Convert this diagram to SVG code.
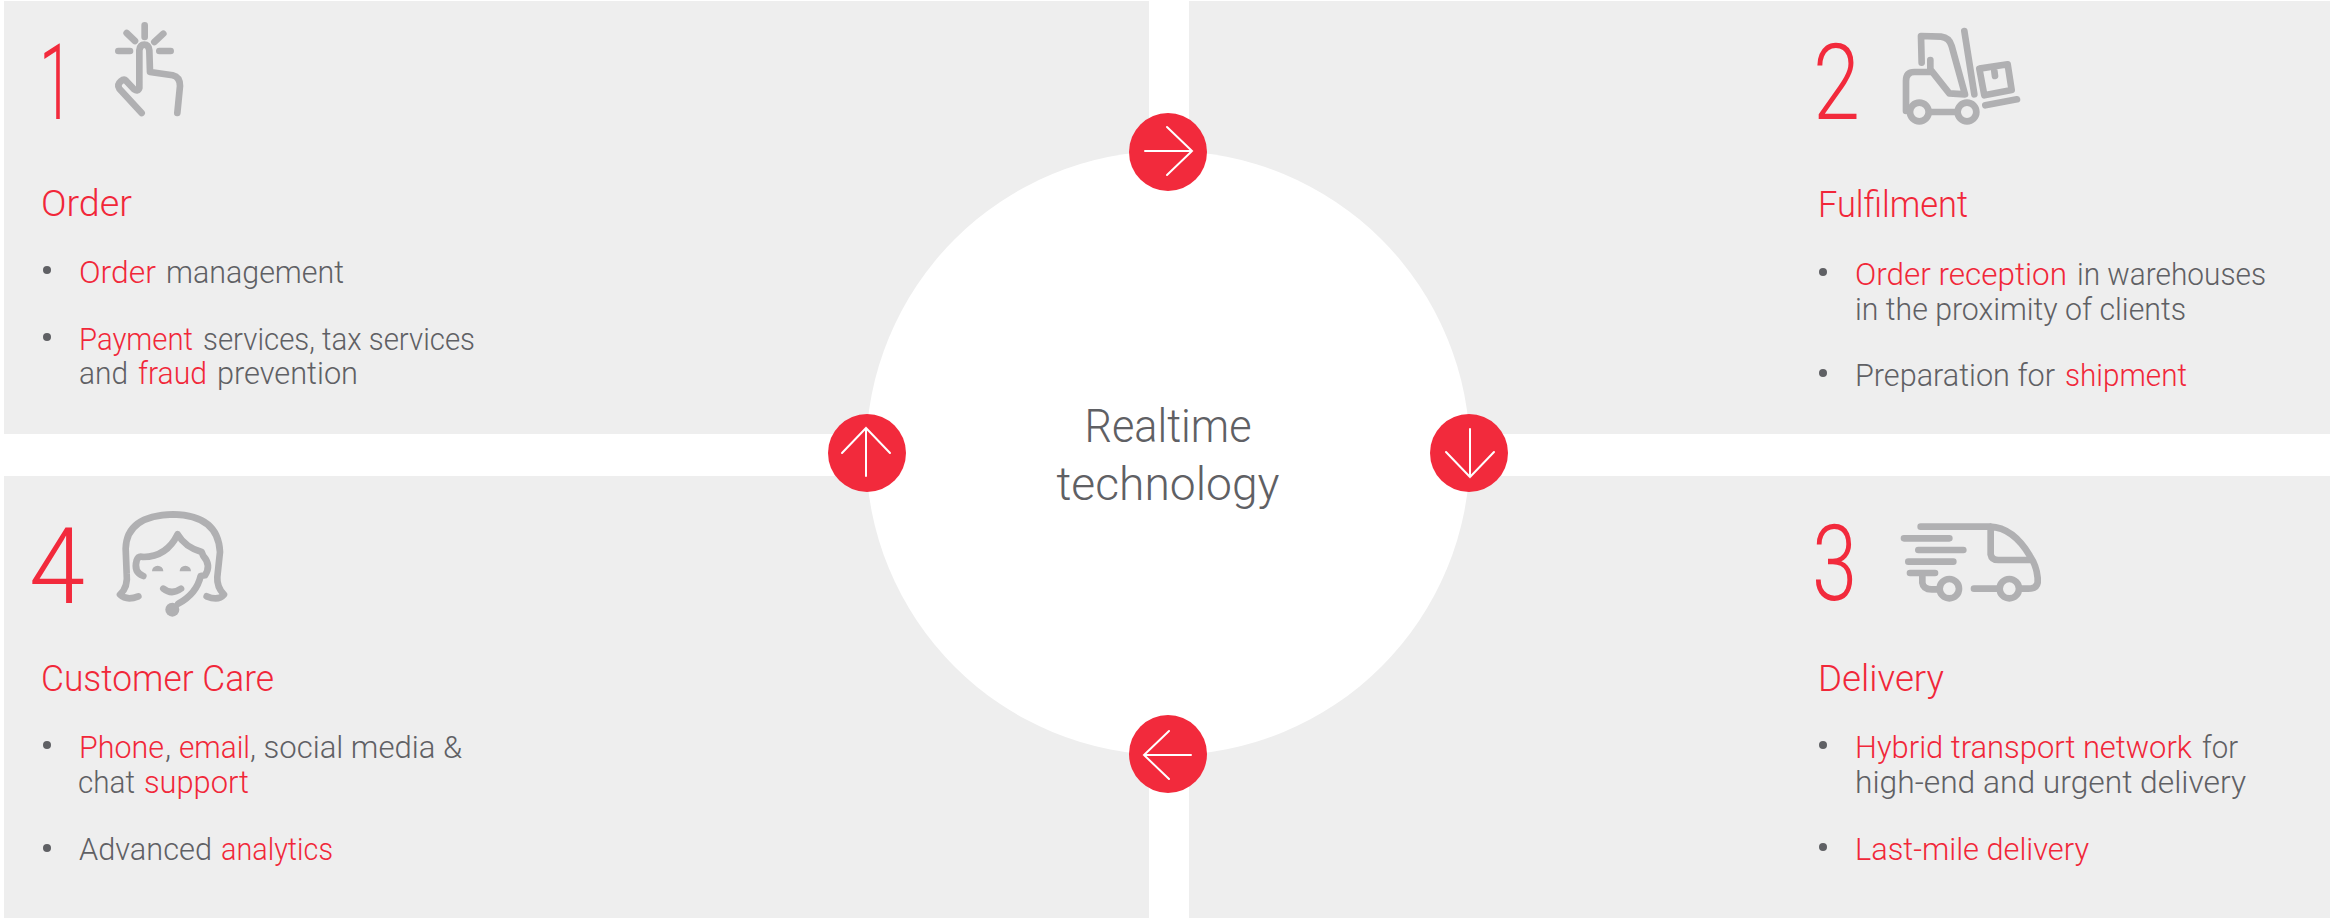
<svg xmlns="http://www.w3.org/2000/svg" width="2330" height="918" viewBox="0 0 2330 918">
<style>
.panel{fill:#eeeeee}
text{font-family:Roboto,"Liberation Sans",sans-serif;font-weight:300}
.num{font-size:106px;fill:#f22a3c}
.title{font-size:36px;fill:#f12739}
.body{font-size:32px;fill:#5f6064}
.r{fill:#f12739}
.center{font-size:47px;fill:#5f6064;text-anchor:middle}
.dot{fill:#5f6064}
.icon{fill:none;stroke:#b0b0b2;stroke-width:20;stroke-linecap:round;stroke-linejoin:round}
.solid{fill:#b0b0b2;stroke:none}
.badge{fill:#f22a3c}
.arrow{fill:none;stroke:#ffffff;stroke-width:2;stroke-linecap:round;stroke-linejoin:miter}
</style>
<rect width="2330" height="918" fill="#ffffff"/>
<g id="panels">
<rect class="panel" x="4" y="1" width="1145" height="433"/>
<rect class="panel" x="1189" y="1" width="1141" height="433"/>
<rect class="panel" x="4" y="476" width="1145" height="442"/>
<rect class="panel" x="1189" y="476" width="1141" height="442"/>
</g>
<g id="node-center">
<circle cx="1168" cy="453" r="302" fill="#ffffff"/>
<text class="center" x="1168" y="442" textLength="167" lengthAdjust="spacingAndGlyphs">Realtime</text>
<text class="center" x="1168" y="500" textLength="223" lengthAdjust="spacingAndGlyphs">technology</text>
</g>
<g id="node-order">
<text class="num" x="39" y="119" textLength="34" lengthAdjust="spacingAndGlyphs">1</text>
<g class="icon" transform="translate(100 12) scale(.3333)">
<path d="M134 40V75M80 63L105 87M190 65L163 90M55 117H90M178 117H212"/>
<path d="M232 303L240 222Q240 195 218 190L150 180L148 115Q146 98 133 98Q120 98 118 115V228Q114 240 102 232L78 206Q72 200 62 208Q50 218 58 230L125 303"/>
</g>
<text class="title" x="41" y="216" textLength="91" lengthAdjust="spacingAndGlyphs">Order</text>
<circle class="dot" cx="47" cy="270" r="4"/>
<circle class="dot" cx="47" cy="337" r="4"/>
<text class="body" y="283"><tspan class="r" x="79" textLength="77" lengthAdjust="spacingAndGlyphs">Order</tspan><tspan x="166" textLength="178" lengthAdjust="spacingAndGlyphs">management</tspan></text>
<text class="body" y="350"><tspan class="r" x="79" textLength="114" lengthAdjust="spacingAndGlyphs">Payment</tspan><tspan x="203" textLength="272" lengthAdjust="spacingAndGlyphs">services, tax services</tspan></text>
<text class="body" y="384"><tspan x="79" textLength="49" lengthAdjust="spacingAndGlyphs">and</tspan><tspan class="r" x="138" textLength="69" lengthAdjust="spacingAndGlyphs">fraud</tspan><tspan x="217" textLength="141" lengthAdjust="spacingAndGlyphs">prevention</tspan></text>
</g>
<g id="node-fulfilment">
<text class="num" x="1813" y="119" textLength="47" lengthAdjust="spacingAndGlyphs">2</text>
<g class="icon" transform="translate(1891 16) scale(.3333)">
<path d="M220 45L250 235M92 140L90 60L150 62Q175 65 182 90L222 235L175 232L118 160V132"/>
<path d="M118 168H70Q45 168 45 195V285"/>
<circle cx="85" cy="288" r="28"/><circle cx="228" cy="288" r="28"/>
<path d="M118 288H195M265 158L350 145L362 222L280 238ZM310 165L312 180M283 268L378 250"/>
</g>
<text class="title" x="1818" y="217" textLength="150" lengthAdjust="spacingAndGlyphs">Fulfilment</text>
<circle class="dot" cx="1823" cy="272" r="4"/>
<circle class="dot" cx="1823" cy="373" r="4"/>
<text class="body" y="285"><tspan class="r" x="1855" textLength="212" lengthAdjust="spacingAndGlyphs">Order reception</tspan><tspan x="2077" textLength="189" lengthAdjust="spacingAndGlyphs">in warehouses</tspan></text>
<text class="body" y="320" x="1855" textLength="331" lengthAdjust="spacingAndGlyphs">in the proximity of clients</text>
<text class="body" y="386"><tspan x="1855" textLength="200" lengthAdjust="spacingAndGlyphs">Preparation for</tspan><tspan class="r" x="2065" textLength="122" lengthAdjust="spacingAndGlyphs">shipment</tspan></text>
</g>
<g id="node-delivery">
<text class="num" x="1812" y="600" textLength="45" lengthAdjust="spacingAndGlyphs">3</text>
<g class="icon" transform="translate(1890 511) scale(.3333)">
<path d="M92 47H300Q370 50 420 135Q440 165 443 200V215Q440 233 415 233H395M302 47V130Q305 147 325 147H420"/>
<path d="M42 82H178M85 117H220M55 152H190M60 186H135M97 186V215Q100 235 125 235H145M252 233H328"/>
<circle cx="178" cy="233" r="29"/><circle cx="358" cy="233" r="29"/>
</g>
<text class="title" x="1818" y="691" textLength="126" lengthAdjust="spacingAndGlyphs">Delivery</text>
<circle class="dot" cx="1823" cy="745" r="4"/>
<circle class="dot" cx="1823" cy="847" r="4"/>
<text class="body" y="758"><tspan class="r" x="1855" textLength="337" lengthAdjust="spacingAndGlyphs">Hybrid transport network</tspan><tspan x="2202" textLength="36" lengthAdjust="spacingAndGlyphs">for</tspan></text>
<text class="body" y="793" x="1855" textLength="391" lengthAdjust="spacingAndGlyphs">high-end and urgent delivery</text>
<text class="body r" y="860" x="1855" textLength="234" lengthAdjust="spacingAndGlyphs">Last-mile delivery</text>
</g>
<g id="node-care">
<text class="num" x="29" y="603" textLength="56" lengthAdjust="spacingAndGlyphs">4</text>
<g class="icon" transform="translate(110 502) scale(.3333)">
<path d="M85 283Q50 297 30 278Q55 255 50 215L47 140Q50 40 190 37Q325 40 330 150L322 225Q320 255 342 278Q325 298 290 283"/>
<path d="M100 222Q70 210 80 175Q85 160 100 165Q170 165 203 97Q225 135 275 150L280 162Q305 190 285 220L272 222Q260 275 205 305"/>
<path d="M160 260Q185 280 213 260"/>
<path class="solid" d="M126 208A17 17 0 0 1 160 208ZM209 208A17 17 0 0 1 243 208Z"/>
<circle class="solid" cx="187" cy="323" r="21"/>
</g>
<text class="title" x="41" y="691" textLength="233" lengthAdjust="spacingAndGlyphs">Customer Care</text>
<circle class="dot" cx="47" cy="745" r="4"/>
<circle class="dot" cx="47" cy="848" r="4"/>
<text class="body" y="758"><tspan class="r" x="79" textLength="85" lengthAdjust="spacingAndGlyphs">Phone</tspan><tspan x="165">,</tspan><tspan class="r" x="179" textLength="71" lengthAdjust="spacingAndGlyphs">email</tspan><tspan x="250" textLength="212" lengthAdjust="spacingAndGlyphs">, social media &amp;</tspan></text>
<text class="body" y="793"><tspan x="78" textLength="57" lengthAdjust="spacingAndGlyphs">chat</tspan><tspan class="r" x="144" textLength="105" lengthAdjust="spacingAndGlyphs">support</tspan></text>
<text class="body" y="860"><tspan x="79" textLength="133" lengthAdjust="spacingAndGlyphs">Advanced</tspan><tspan class="r" x="221" textLength="112" lengthAdjust="spacingAndGlyphs">analytics</tspan></text>
</g>
<g id="connectors">
<circle class="badge" cx="1168" cy="152" r="39"/>
<path class="arrow" d="M1145 151H1192M1167 127L1192 151L1167 175"/>
<circle class="badge" cx="1469" cy="453" r="39"/>
<path class="arrow" d="M1470 429V477M1446 452L1470 477L1494 452"/>
<circle class="badge" cx="1168" cy="754" r="39"/>
<path class="arrow" d="M1191 755H1144M1169 731L1144 755L1169 779"/>
<circle class="badge" cx="867" cy="453" r="39"/>
<path class="arrow" d="M866 476V428M842 453L866 428L890 453"/>
</g>
</svg>
